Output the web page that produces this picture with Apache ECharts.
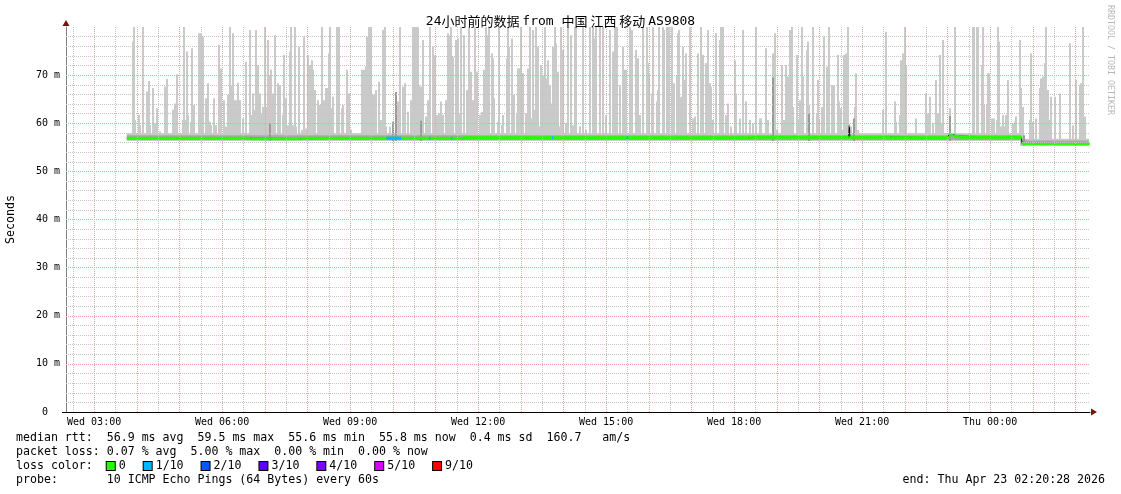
<!DOCTYPE html>
<html><head><meta charset="utf-8">
<script src="https://cdn.jsdelivr.net/npm/echarts@6/dist/echarts.min.js"></script>
<style>html,body{margin:0;padding:0;background:#fff}#c{width:1121px;height:494px}</style>
</head><body><div id="c"></div>
<script>
// ---- time axis: minutes since Wed 00:00 ----
const xStart = 140.47;           // Wed 02:20:28
const xEnd = 1580.47;            // Thu 02:20:28
const labelTicks = [180, 360, 540, 720, 900, 1080, 1260, 1440];
const hourTicks = [180,240,300,360,420,480,540,600,660,720,780,840,900,960,1020,1080,1140,1200,1260,1320,1380,1440,1500,1560];
const halfHourTicks = [150,210,270,330,390,450,510,570,630,690,750,810,870,930,990,1050,1110,1170,1230,1290,1350,1410,1470,1530];
const yMin = 0, yMax = 80, yStep = 10;
const yMajorGrid = [10,20,30,40,50,60,70];
const yMinorGrid = [2,4,6,8,12,14,16,18,22,24,26,28,32,34,36,38,42,44,46,48,52,54,56,58,62,64,66,68,72,74,76,78];

// ---- smoke: base bands [start, end, low, high] (ms) ----
const smokeBands = [[226, 1484, 56.3, 57.9], [1484, 1579, 55.3, 56.8]];
const smokeInner = [[226, 1484, 56.5, 57.5], [1484, 1579, 55.5, 56.4]];
// ---- smoke spikes [minute, max ping ms] ----
const smokeSpikes = [
[234,77.0],[236,80],[238,60.7],[243,61.7],[245,59.6],[249,80],[255,66.6],[257,68.8],[259,59.6],[263,67.3],[265,60.0],[269,63.1],[272,58.3],[279,67.6],[283,69.2],[291,62.8],[294,64.1],[297,70.2],[305,60.7],[306,80],[308,60.7],[310,74.9],[312,61.7],[316,60.3],[318,75.6],[320,63.8],[328,78.7],[331,78.7],[333,78.0],[338,65.2],[340,68.3],[343,60.3],[345,59.6],[349,65.2],[351,59.6],[355,76.3],[357,62.1],[359,71.4],[363,64.8],[365,59.3],[368,65.9],[371,80],[372,65.9],[374,67.9],[375,78.7],[378,64.8],[379,64.8],[381,63.8],[383,68.4],[385,64.8],[389,61.0],[393,72.8],[394,61.0],[399,79.4],[401,61.7],[404,66.2],[406,62.8],[408,79.4],[411,72.1],[413,66.2],[415,62.1],[418,63.4],[420,80],[422,63.4],[425,77.3],[427,70.0],[429,71.1],[432,66.2],[434,78.3],[435,69.0],[439,68.3],[441,67.9],[445,61.7],[447,74.2],[450,65.2],[453,59.6],[455,74.9],[457,80],[460,59.6],[463,80],[464,59.3],[468,75.9],[472,58.6],[475,78.0],[478,58.9],[481,74.2],[483,72.1],[486,73.1],[488,71.1],[490,66.9],[495,64.8],[497,63.8],[501,80],[503,64.8],[506,67.3],[508,67.3],[510,74.5],[512,80],[514,63.1],[516,65.5],[521,80],[523,59.3],[525,80],[528,63.1],[530,63.8],[535,71.1],[538,66.2],[541,58.6],[557,71.1],[560,71.1],[562,71.8],[564,78.0],[567,80],[569,80],[572,65.9],[575,65.9],[577,66.9],[580,68.6],[583,60.7],[586,79.4],[589,80],[591,59.3],[596,59.3],[600,60.0],[605,60.0],[607,64.5],
[610,80],[614,67.6],[617,68.3],[621,62.4],[626,64.8],[628,80],[631,80],[633,80],[635,80],[637,67.9],[639,67.6],[642,77.3],[647,61.4],[650,64.8],[652,80],[656,75.9],[659,74.2],[662,61.7],[665,62.1],[668,64.5],[671,61.7],[675,64.8],[678,78.7],[680,78.3],[682,80],[685,73.8],[689,77.3],[692,77.6],[694,62.1],[696,80],[700,78.3],[704,66.9],[707,80],[710,70.7],[713,64.8],[715,80],[718,70.7],[722,61.7],[725,62.4],[728,71.1],[731,80],[734,78.3],[736,80],[739,74.5],[741,73.5],[743,65.2],[748,60.3],[750,80],[753,59.6],[755,61.7],[760,73.5],[762,80],[764,75.9],[767,77.6],[769,60.7],[771,65.9],[774,62.1],[776,71.4],[778,71.4],[781,80],[783,70.4],[788,62.1],[790,71.4],[793,80],[795,61.0],[797,79.4],[800,62.8],[802,80],[804,75.9],[807,59.3],[809,72.1],[811,70.0],[814,80],[816,69.3],[818,73.1],[821,67.9],[823,64.1],[825,75.9],[828,80],[830,76.6],[832,70.7],[835,59.3],[837,80],[839,75.2],[844,60.0],[846,80],[851,78.3],[853,59.6],[856,80],[858,80],[863,59.3],[868,80],[872,58.6],[877,80],[882,80],[884,77.6],[886,80],[891,80],[896,80],[900,61.7],[905,79.4],[910,74.9],[912,80],[915,80],[919,67.9],[924,75.9],[926,71.1],[928,71.1],[933,80],[937,79.4],[942,75.2],[945,73.5],[947,61.7],[952,80],[957,80],[959,72.5],[961,70.4],[964,66.2],[966,80],[971,64.5],[973,66.9],[975,80],[980,80],[982,79.4],[985,80],[988,80],[992,80],[994,65.9],[996,68.3],[999,70.0],[1001,78.7],[1003,79.4],[1006,65.5],[1008,75.9],[1010,69.0],[1013,74.5],[1018,80],[1022,61.0],[1025,61.4],[1029,74.5],[1034,80],[1036,74.2],[1040,72.5],[1043,79.4],[1046,68.3],[1048,67.6],[1050,60.7],[1055,78.7],[1060,77.3],[1062,80],[1064,80],[1069,61.7],[1071,64.1],[1076,59.3],[1081,73.1],[1083,66.2],[1088,61.0],[1093,79.4],[1097,64.5],[1102,60.7],[1107,60.0],[1111,80],
[1116,61.0],[1118,61.0],[1125,75.6],[1128,60.7],[1135,74.5],[1137,78.7],[1140,58.6],[1148,72.1],[1150,60.7],[1153,72.1],[1156,69.7],[1158,79.4],[1161,80],[1163,63.4],[1168,74.2],[1170,60.7],[1172,64.8],[1175,80],[1177,69.7],[1182,75.2],[1184,77.0],[1186,63.8],[1191,80],[1196,62.1],[1198,69.0],[1200,60.7],[1203,63.4],[1207,78.0],[1210,71.8],[1214,80],[1217,67.9],[1219,67.6],[1221,67.9],[1226,74.2],[1228,64.5],[1231,63.1],[1233,58.6],[1235,74.2],[1238,74.5],[1240,80],[1245,59.3],[1250,63.4],[1252,70.4],[1254,58.6],[1289,62.8],[1293,79.0],[1306,64.5],[1308,60.3],[1313,61.7],[1315,73.1],[1318,74.5],[1320,80],[1322,72.1],[1336,61.0],[1350,66.2],[1353,62.1],[1355,65.5],[1360,60.0],[1364,69.0],[1367,62.1],[1369,74.2],[1371,60.0],[1374,77.3],[1383,63.1],[1390,80],[1416,80],[1418,80],[1421,80],[1423,80],[1428,72.1],[1430,80],[1432,63.8],[1435,63.8],[1437,70.4],[1439,70.4],[1442,61.0],[1444,59.6],[1446,61.0],[1449,60.7],[1451,80],[1453,77.0],[1456,59.3],[1458,61.7],[1460,59.3],[1463,61.7],[1465,69.0],[1472,60.0],[1475,60.3],[1477,61.4],[1482,77.3],[1484,67.3],[1486,63.4],[1496,60.7],[1498,74.5],[1500,60.3],[1505,61.0],[1510,67.3],[1512,69.3],[1514,69.7],[1517,72.5],[1519,80],[1521,66.9],[1524,60.7],[1526,65.5],[1531,65.5],[1538,66.2],[1552,76.6],[1557,59.6],[1561,69.0],[1566,67.9],[1568,68.3],[1571,80],[1573,61.4]
];
// darker inner smoke spikes [minute, ms]
const darkSpikes = [[601,60.3],[604,66.5],[639,60.5],[427,60.0],[1135,69.5],[1186,62.0],[1249,61.0],[1383,61.5],[1488,57.5]];
// ---- median rtt [minute, ms] (step) ----
const medianPts = [[226,56.9],[300,56.9],[400,56.8],[470,56.9],[600,56.9],[700,57.0],[800,57.0],[900,57.0],[1000,57.0],[1100,57.1],[1200,57.1],[1241,57.1],[1242,59.5],[1243,57.1],[1300,57.0],[1380,57.1],[1382,57.6],[1388,57.3],[1396,57.1],[1484,57.0],[1485,55.8],[1530,55.7],[1560,55.7],[1579,55.8]];
// ---- packet loss segments [start, end, loss index] ----
const lossSegs = [[591,612,1],[651,653,1],[682,684,1],[824,826,1],[929,931,1]];
const lossLabels = ['0','1/10','2/10','3/10','4/10','5/10','9/10'];
const lossColors = ['#26ff00','#00b8ff','#0059ff','#5e00ff','#7e00ff','#dd00ff','#ff0000'];
const statLines = [
  'median rtt:  56.9 ms avg  59.5 ms max  55.6 ms min  55.8 ms now  0.4 ms sd  160.7   am/s',
  'packet loss: 0.07 % avg  5.00 % max  0.00 % min  0.00 % now',
  'probe:       10 ICMP Echo Pings (64 Bytes) every 60s'
];
const endText = 'end: Thu Apr 23 02:20:28 2026';

const MONO = 'DejaVu Sans Mono';
const CJK = 'Noto Sans CJK SC';
const RED = '#f5a0a0', GREY = '#c4c4c4';

function lowAt(m){ for (const b of smokeBands) if (m >= b[0] && m < b[1]) return b[2]; return smokeBands[smokeBands.length-1][2]; }
function medianAt(m){ let v = medianPts[0][1]; for (const p of medianPts) { if (p[0] <= m) v = p[1]; } return v; }

function bandItem(color){
  return function(params, api){
    const a = api.coord([api.value(0), api.value(3)]);
    const b = api.coord([api.value(1), api.value(2)]);
    return {type:'rect', shape:{x:a[0], y:a[1], width:b[0]-a[0], height:b[1]-a[1]}, style:{fill:color}};
  };
}
function spikeItem(color){
  return function(params, api){
    const m = api.value(0), v = Math.min(api.value(1), yMax);
    const p0 = api.coord([m, lowAt(m)]);
    const p1 = api.coord([m, v]);
    const x = Math.round(p0[0]) - 1;
    return {type:'rect', shape:{x:x, y:p1[1], width:2, height:p0[1]-p1[1]}, style:{fill:color}};
  };
}
function medItem(params, api){
  const i = params.dataIndex;
  const m = api.value(0), v = api.value(1);
  const next = i + 1 < medianPts.length ? medianPts[i+1][0] : m + 1;
  const a = api.coord([m, v]), b = api.coord([next, v]);
  return {type:'rect', shape:{x:a[0], y:a[1]-1.5, width:b[0]-a[0], height:3}, style:{fill:lossColors[0]}};
}
function lossItem(params, api){
  const s = api.value(0), e = api.value(1), k = api.value(2);
  const v = medianAt(s);
  const a = api.coord([s, v]), b = api.coord([e, v]);
  return {type:'rect', shape:{x:a[0], y:a[1]-1.5, width:b[0]-a[0], height:3}, style:{fill:lossColors[k]}};
}
function fmtX(v){
  const day = v < 1440 ? 'Wed' : 'Thu';
  const h = Math.floor(v / 60) % 24;
  return day + ' ' + String(h).padStart(2,'0') + ':00';
}

const dotted = (c) => ({color:c, width:1, type:[1,1]});
const gridLines = []
  .concat(halfHourTicks.map(v => ({xAxis:v, lineStyle:dotted(GREY)})))
  .concat(yMinorGrid.map(v => ({yAxis:v, lineStyle:dotted(GREY)})))
  .concat(hourTicks.map(v => ({xAxis:v, lineStyle:dotted(RED)})))
  .concat(yMajorGrid.map(v => ({yAxis:v, lineStyle:dotted(RED)})));

// legend rich line
let lossRich = 'loss color:  ';
const rich = {t:{fontFamily:MONO, fontSize:11.6, color:'#000'}, sp:{width:4, height:9}};
lossLabels.forEach((l, i) => {
  rich['b'+i] = {width:8, height:8, backgroundColor:lossColors[i], borderColor:'#000', borderWidth:1};
  lossRich += '{b'+i+'|}{sp|}{t|' + l + '  }{sp|}';
});

const chart = echarts.init(document.getElementById('c'), null, {renderer:'canvas'});
chart.setOption({
  animation:false,
  backgroundColor:'#ffffff',
  title:{
    left:'center', top:10,
    text:'{m|24}{c|小时前的数据 }{m|from }{c|中国 江西 移动 }{m|AS9808}',
    textStyle:{fontWeight:'normal', rich:{m:{fontFamily:MONO, fontSize:13, fontWeight:'normal', color:'#000'}, c:{fontFamily:CJK, fontSize:13, fontWeight:'normal', color:'#000'}}}
  },
  grid:{left:66, right:31, top:27, bottom:82, containLabel:false, outerBoundsMode:'none'},
  xAxis:{type:'value', min:xStart, max:xEnd, position:'bottom',
     axisLine:{show:true, lineStyle:{color:'#000', width:1}},
     axisTick:{show:false},
     axisLabel:{customValues:labelTicks, formatter:fmtX, fontFamily:MONO, fontSize:10, color:'#000', margin:5},
     splitLine:{show:false}, minorSplitLine:{show:false}},
  yAxis:{
    type:'value', min:yMin, max:yMax, interval:yStep,
    axisLine:{show:true, lineStyle:{color:'#808080'}},
    axisTick:{show:false},
    axisLabel:{formatter:v => v === 0 ? '0  ' : v + ' m', fontFamily:MONO, fontSize:10, color:'#000', margin:6, showMaxLabel:false},
    splitLine:{show:false}, minorSplitLine:{show:false},
    name:'Seconds', nameLocation:'middle', nameGap:49, nameRotate:90,
    nameTextStyle:{fontFamily:MONO, fontSize:11.6, color:'#000'}
  },
  series:[
    {type:'custom', name:'smoke', renderItem:bandItem('#cacaca'), data:smokeBands, encode:{x:[0,1], y:[2,3]}, clip:true, silent:true, z:2},
    {type:'custom', name:'smokeSpikes', renderItem:spikeItem('#cacaca'), data:smokeSpikes, encode:{x:0, y:1}, clip:true, silent:true, z:2},
    {type:'custom', name:'smokeInner', renderItem:bandItem('#a8a8a8'), data:smokeInner, encode:{x:[0,1], y:[2,3]}, clip:true, silent:true, z:2},
    {type:'custom', name:'darkSpikes', renderItem:spikeItem('#9a9a9a'), data:darkSpikes, encode:{x:0, y:1}, clip:true, silent:true, z:2},
    {type:'line', name:'medianLine', data:medianPts, step:'end', showSymbol:false, lineStyle:{color:'#000', width:1}, silent:true, z:3},
    {type:'custom', name:'median', renderItem:medItem, data:medianPts, encode:{x:0, y:1}, clip:true, silent:true, z:4},
    {type:'custom', name:'loss', renderItem:lossItem, data:lossSegs, encode:{x:[0,1]}, clip:true, silent:true, z:5},
    {type:'line', name:'grid', data:[], silent:true, z:6,
     markLine:{silent:true, symbol:['none','none'], label:{show:false}, animation:false, emphasis:{disabled:true}, data:gridLines}}
  ],
  graphic:[
    {type:'line', shape:{x1:62, y1:412.5, x2:66, y2:412.5}, style:{stroke:'#000', lineWidth:1}, z:100},
    {type:'polygon', shape:{points:[[62.5,26],[69.5,26],[66,20]]}, style:{fill:'#7a1010'}, z:100},
    {type:'polygon', shape:{points:[[1091,408.5],[1091,415.5],[1097,412]]}, style:{fill:'#7a1010'}, z:100},
    {type:'text', x:1110, y:60, rotation:-Math.PI/2, style:{text:'RRDTOOL / TOBI OETIKER', fontFamily:MONO, fontSize:8.3, fill:'#b8b8b8', align:'center', verticalAlign:'middle'}},
    {type:'text', x:16, y:438, style:{text:statLines[0], fontFamily:MONO, fontSize:11.6, fill:'#000', verticalAlign:'middle'}},
    {type:'text', x:16, y:452, style:{text:statLines[1], fontFamily:MONO, fontSize:11.6, fill:'#000', verticalAlign:'middle'}},
    {type:'text', x:16, y:466, style:{text:lossRich, rich:rich, fontFamily:MONO, fontSize:11.6, fill:'#000', verticalAlign:'middle'}},
    {type:'text', x:16, y:480, style:{text:statLines[2], fontFamily:MONO, fontSize:11.6, fill:'#000', verticalAlign:'middle'}},
    {type:'text', x:1105, y:480, style:{text:endText, fontFamily:MONO, fontSize:11.6, fill:'#000', align:'right', verticalAlign:'middle'}}
  ]
});
</script></body></html>
